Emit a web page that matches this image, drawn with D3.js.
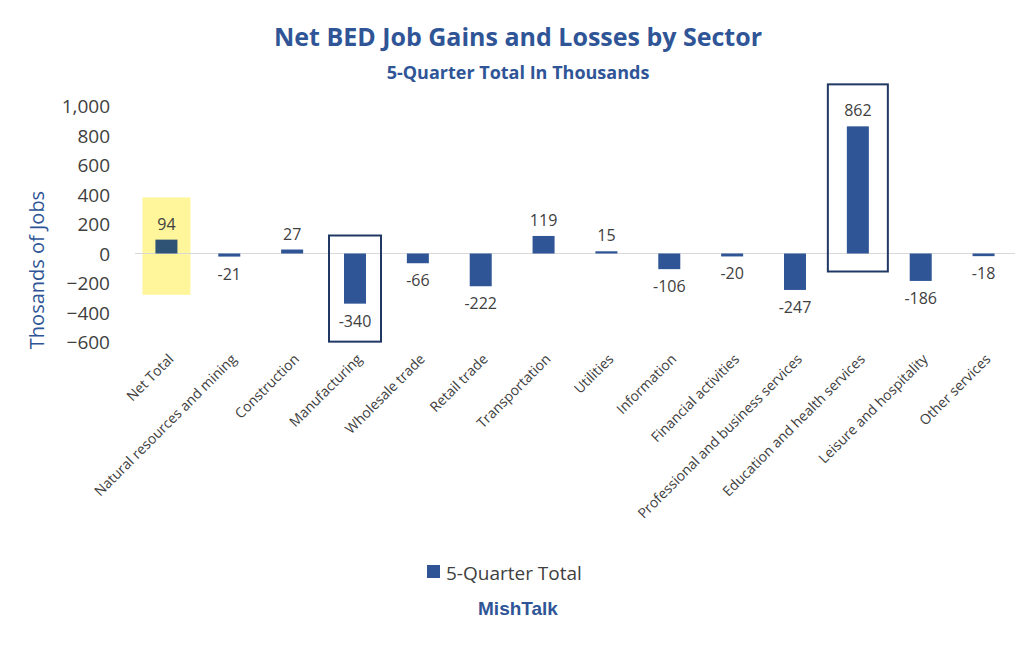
<!DOCTYPE html>
<html><head><meta charset="utf-8">
<script src="https://cdn.jsdelivr.net/npm/d3@7"></script>
<style>body{margin:0;background:#fff}text{font-family:"Open Sans","Noto Sans",Arial,sans-serif}</style>
</head><body>
<script>
var sectors = ["Net Total","Natural resources and mining","Construction","Manufacturing","Wholesale trade","Retail trade","Transportation","Utilities","Information","Financial activities","Professional and business services","Education and health services","Leisure and hospitality","Other services"];
var values = [94,-21,27,-340,-66,-222,119,15,-106,-20,-247,862,-186,-18];
var yTicks = [-600,-400,-200,0,200,400,600,800,1000];
var boxed = ["Manufacturing","Education and health services"];

var width = 1024, height = 649, blue = "#2f5597";
var svg = d3.select("body").append("svg").attr("width", width).attr("height", height);

var x = d3.scaleBand().domain(sectors).range([135, 1015]).paddingInner(0.65).paddingOuter(0.325);
var y = d3.scaleLinear().domain([-600, 1000]).range([342, 106]);

svg.append("text").attr("x", 518).attr("y", 46).attr("text-anchor", "middle")
	.attr("font-size", 25).attr("font-weight", "bold").attr("fill", blue).text("Net BED Job Gains and Losses by Sector");
svg.append("text").attr("x", 518).attr("y", 79).attr("text-anchor", "middle")
	.attr("font-size", 18).attr("font-weight", "bold").attr("fill", blue).text("5-Quarter Total In Thousands");

var c0 = x("Net Total") + x.bandwidth() / 2;
svg.append("rect").attr("x", c0 - 24).attr("y", y(380)).attr("width", 48).attr("height", y(-280) - y(380)).attr("fill", "#fff59a");

svg.append("g").selectAll("text").data(yTicks).join("text")
	.attr("x", 110).attr("y", function (d) { return y(d) + 7; }).attr("text-anchor", "end")
	.attr("font-size", 19).attr("fill", "#404040").text(d3.format(","));
svg.append("text").attr("transform", "translate(44,270) rotate(-90)").attr("text-anchor", "middle")
	.attr("font-size", 20).attr("fill", blue).text("Thosands of Jobs");

svg.append("line").attr("x1", 135).attr("x2", 1015).attr("y1", y(0)).attr("y2", y(0)).attr("stroke", "#d9d9d9");

svg.append("g").selectAll("rect").data(sectors).join("rect")
	.attr("x", function (d) { return x(d); }).attr("width", x.bandwidth())
	.attr("y", function (d, i) { return y(Math.max(0, values[i])); })
	.attr("height", function (d, i) { return Math.abs(y(values[i]) - y(0)); })
	.attr("fill", function (d, i) { return i === 0 ? "#2e5374" : blue; });

svg.append("g").selectAll("text").data(sectors).join("text")
	.attr("x", function (d) { return x(d) + x.bandwidth() / 2; })
	.attr("y", function (d, i) { return values[i] >= 0 ? y(values[i]) - 10 : y(values[i]) + 23; })
	.attr("text-anchor", "middle").attr("font-size", 16).attr("fill", "#404040")
	.text(function (d, i) { return values[i]; });

boxed.forEach(function (s) {
	var i = sectors.indexOf(s), c = x(s) + x.bandwidth() / 2;
	var top = values[i] > 0 ? y(values[i]) - 42 : y(0) - 18;
	var bot = values[i] > 0 ? y(0) + 18 : y(values[i]) + 38;
	var w = values[i] > 0 ? 60 : 52;
	svg.append("rect").attr("x", c - w / 2).attr("y", top).attr("width", w).attr("height", bot - top)
		.attr("fill", "none").attr("stroke", "#1f3864").attr("stroke-width", 2);
});

svg.append("g").selectAll("text").data(sectors).join("text")
	.attr("transform", function (d) { return "translate(" + (x(d) + x.bandwidth() / 2 + 8) + ",360) rotate(-45)"; })
	.attr("text-anchor", "end").attr("font-size", 14).attr("fill", "#404040").text(function (d) { return d; });

svg.append("rect").attr("x", 427).attr("y", 565).attr("width", 13).attr("height", 13).attr("fill", blue);
svg.append("text").attr("x", 446).attr("y", 580).attr("font-size", 19).attr("fill", "#404040").text("5-Quarter Total");
svg.append("text").attr("x", 518).attr("y", 615).attr("text-anchor", "middle").attr("font-size", 19)
	.attr("font-weight", "bold").attr("fill", blue).style("font-family", "'Liberation Sans',Arial,sans-serif").text("MishTalk");
</script>
</body></html>
